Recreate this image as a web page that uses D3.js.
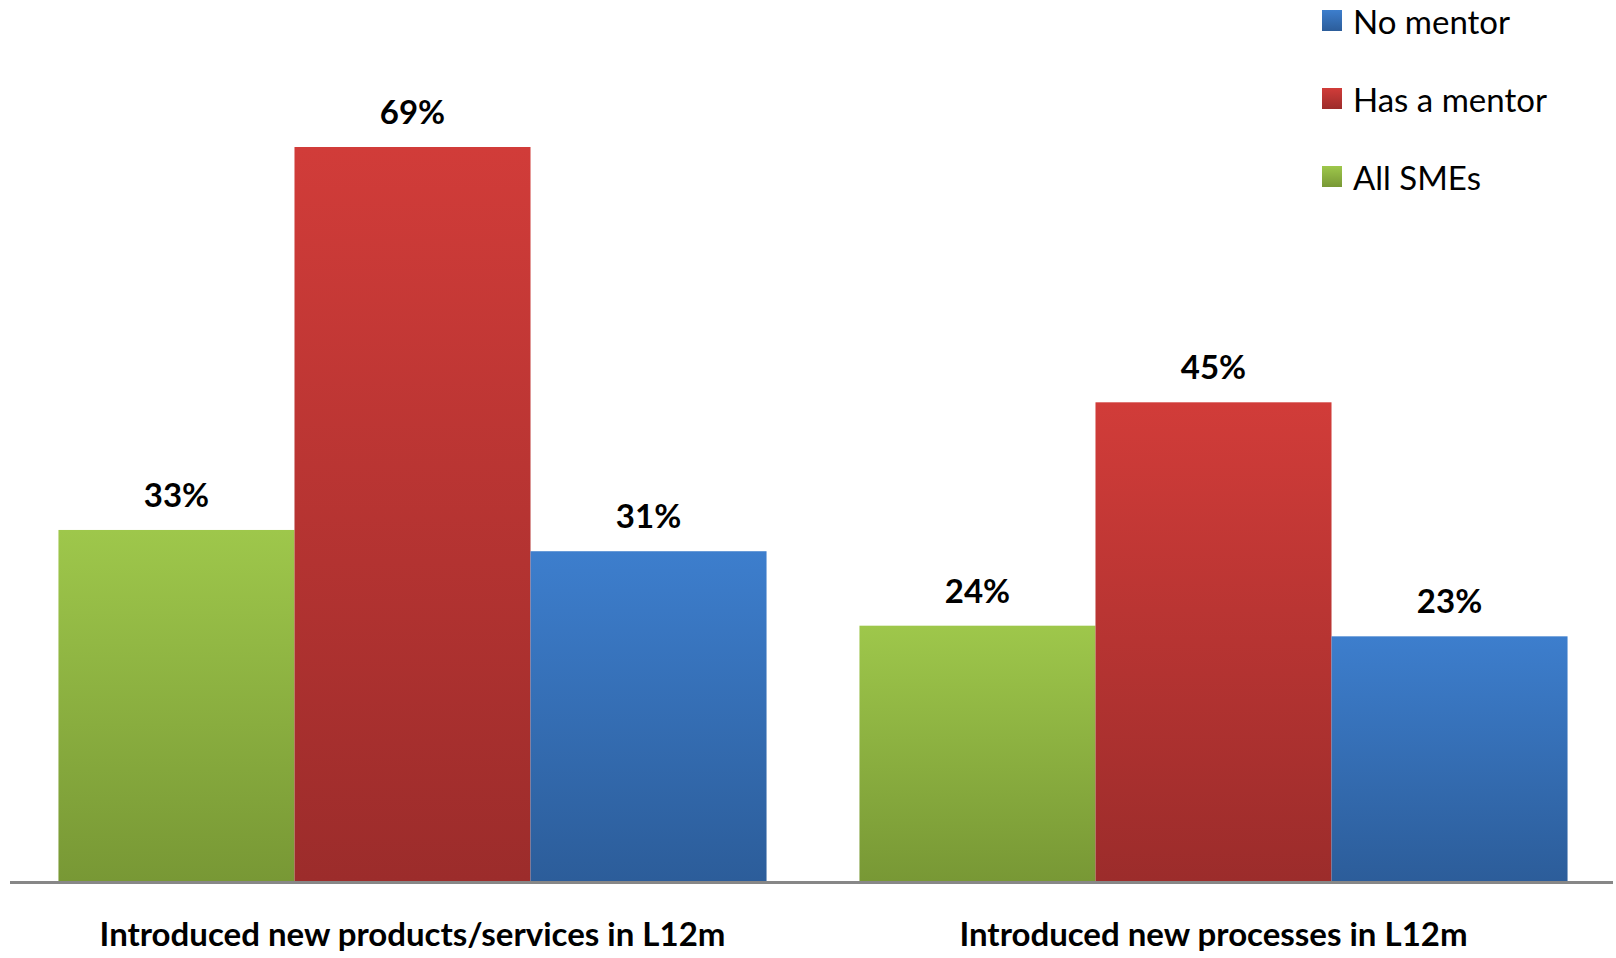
<!DOCTYPE html>
<html>
<head>
<meta charset="utf-8">
<script src="https://cdn.jsdelivr.net/npm/d3@7"></script>
<style>
  html, body { margin: 0; padding: 0; background: #fff; }
  svg { display: block; }
  text { font-family: Lato, "Open Sans", sans-serif; fill: #000; }
</style>
</head>
<body>
<svg id="chart" width="1616" height="958"></svg>
<script>
// Share of SMEs introducing innovations in the last 12 months, by mentoring status
const categories = ["Introduced new products/services in L12m", "Introduced new processes in L12m"];
const seriesNames = ["All SMEs", "Has a mentor", "No mentor"];
const allSMEs = [33, 24];
const hasMentor = [69, 45];
const noMentor = [31, 23];
const legendOrder = ["No mentor", "Has a mentor", "All SMEs"];

const seriesValues = { "All SMEs": allSMEs, "Has a mentor": hasMentor, "No mentor": noMentor };
const colors = {
  "All SMEs":     ["#9ec74b", "#789835"],
  "Has a mentor": ["#d13c39", "#9c2c2b"],
  "No mentor":    ["#3d7ecd", "#2c5d9a"]
};

const svg = d3.select("#chart");
const defs = svg.append("defs");
const gradId = name => "grad-" + name.replace(/\W+/g, "-");
seriesNames.forEach(name => {
  const g = defs.append("linearGradient")
    .attr("id", gradId(name))
    .attr("x1", 0).attr("y1", 0).attr("x2", 0).attr("y2", 1);
  g.append("stop").attr("offset", "0%").attr("stop-color", colors[name][0]);
  g.append("stop").attr("offset", "100%").attr("stop-color", colors[name][1]);
});

const baseY = 881;
const x0 = d3.scaleBand().domain(categories).range([12, 1614]).paddingInner(0.116).paddingOuter(0.058);
const x1 = d3.scaleBand().domain(seriesNames).range([0, x0.bandwidth()]).padding(0);
const y = d3.scaleLinear().domain([0, 69]).range([baseY, 147]);

const rows = categories.map((c, i) => ({
  category: c,
  bars: seriesNames.map(s => ({ series: s, value: seriesValues[s][i] }))
}));

const groups = svg.append("g").selectAll("g")
  .data(rows).join("g")
  .attr("transform", d => `translate(${x0(d.category)},0)`);

groups.selectAll("rect")
  .data(d => d.bars).join("rect")
  .attr("x", d => x1(d.series))
  .attr("y", d => y(d.value))
  .attr("width", x1.bandwidth())
  .attr("height", d => y(0) - y(d.value))
  .attr("fill", d => `url(#${gradId(d.series)})`);

groups.selectAll("text.value")
  .data(d => d.bars).join("text")
  .attr("class", "value")
  .attr("x", d => x1(d.series) + x1.bandwidth() / 2)
  .attr("y", d => y(d.value) - 23)
  .attr("text-anchor", "middle")
  .style("font-size", "33px")
  .style("font-weight", 700)
  .text(d => d.value + "%");

// baseline axis
const xAxis = d3.axisBottom(x0).tickSize(0).tickPadding(0).tickFormat("");
const axisG = svg.append("g").attr("transform", `translate(0,${baseY + 1.5})`).call(xAxis);
axisG.select(".domain").attr("d", "M10,0H1613").attr("stroke", "#878787").attr("stroke-width", 3);

// category labels
svg.append("g").selectAll("text")
  .data(categories).join("text")
  .attr("x", d => x0(d) + x0.bandwidth() / 2)
  .attr("y", 946)
  .attr("text-anchor", "middle")
  .style("font-size", "33px")
  .style("font-weight", 700)
  .text(d => d);

// legend
const legend = svg.append("g").selectAll("g")
  .data(legendOrder).join("g")
  .attr("transform", (d, i) => `translate(1322,${10 + i * 78})`);
legend.append("rect")
  .attr("width", 20).attr("height", 21)
  .attr("fill", d => `url(#${gradId(d)})`);
legend.append("text")
  .attr("x", 31).attr("y", 24)
  .style("font-size", "33px")
  .text(d => d);
</script>
</body>
</html>
